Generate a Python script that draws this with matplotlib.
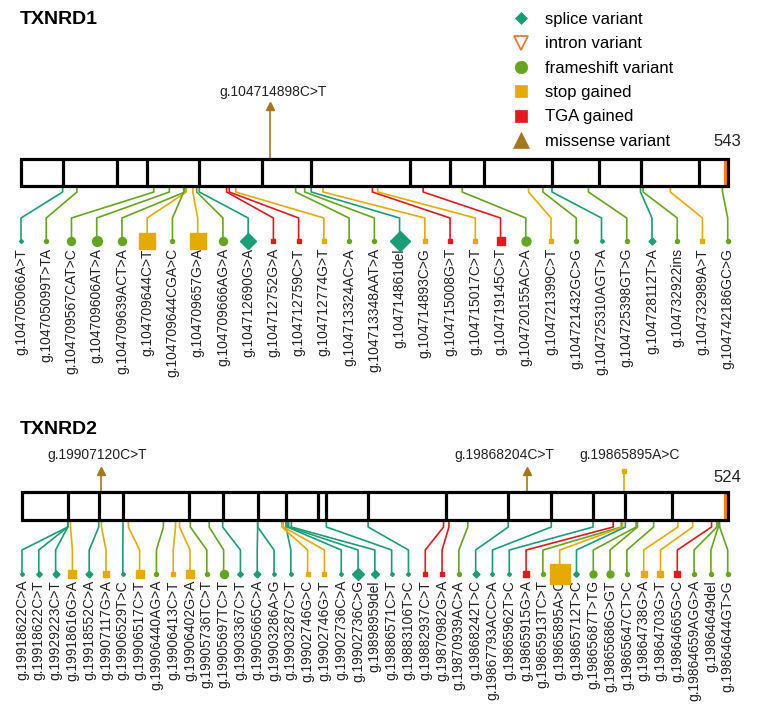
import numpy as np
import matplotlib.pyplot as plt
from matplotlib.lines import Line2D
from matplotlib.patches import Rectangle

plt.rcParams['font.family'] = ['Liberation Sans', 'DejaVu Sans']

# ---------------- TXNRD1 ----------------
tx1_len = 543
tx1_exon_ends = [32, 74, 97, 137, 185, 223, 299, 330, 356, 408, 444, 476, 521]
tx1_labels = ['g.104705066A>T', 'g.104705099T>TA', 'g.104709567CAT>C', 'g.104709606AT>A',
              'g.104709639ACT>A', 'g.104709644C>T', 'g.104709644CGA>C', 'g.104709657G>A',
              'g.104709666AG>A', 'g.104712690G>A', 'g.104712752G>A', 'g.104712759C>T',
              'g.104712774G>T', 'g.104713324AC>A', 'g.104713348AAT>A', 'g.104714861del',
              'g.104714893C>G', 'g.104715008G>T', 'g.104715017C>T', 'g.104719145C>T',
              'g.104720155AC>A', 'g.104721399C>T', 'g.104721432GC>G', 'g.104725310AGT>A',
              'g.104725398GT>G', 'g.104728112T>A', 'g.104732922ins', 'g.104732989A>T',
              'g.104742186GC>G']
tx1_pos = [32, 43, 102, 114, 126, 127, 125, 132, 135, 137, 158, 160, 165, 211, 218, 223,
           232, 270, 274, 309, 339, 390, 401, 408, 436, 476, 478, 499, 539]
tx1_type = ['splice', 'frameshift', 'frameshift', 'frameshift', 'frameshift', 'stop',
            'frameshift', 'stop', 'frameshift', 'splice', 'tga', 'tga', 'stop', 'frameshift',
            'frameshift', 'splice', 'stop', 'tga', 'stop', 'tga', 'frameshift', 'stop',
            'frameshift', 'splice', 'frameshift', 'splice', 'frameshift', 'stop', 'frameshift']
tx1_cases = [1, 1, 4, 6, 4, 16, 1, 16, 4, 16, 1, 1, 1, 1, 1, 25, 1, 1, 1, 5, 5, 1, 1, 1, 1,
             3, 1, 1, 1]
tx1_up_labels = ['g.104714898C>T']
tx1_up_pos = [191]
tx1_up_type = ['missense']
tx1_up_cases = [1]

# ---------------- TXNRD2 ----------------
tx2_len = 524
tx2_exon_ends = [34, 57, 75, 124, 149, 175, 196, 220, 226, 257, 315, 361, 393, 424, 448, 483]
tx2_labels = ['g.19918622C>A', 'g.19918622C>T', 'g.19929223C>T', 'g.19918616G>A',
              'g.19918552C>A', 'g.19907117G>A', 'g.19906529T>C', 'g.19906517C>T',
              'g.19906440AG>A', 'g.19906413C>T', 'g.19906402G>A', 'g.19905736TC>T',
              'g.19905697TC>T', 'g.19903367C>T', 'g.19905665C>A', 'g.19903286A>G',
              'g.19903287C>T', 'g.19902746G>C', 'g.19902746G>T', 'g.19902736C>A',
              'g.19902736C>G', 'g.19898959del', 'g.19886571C>T', 'g.19883106T>C',
              'g.19882937C>T', 'g.19870982G>A', 'g.19870939AC>A', 'g.19868242T>C',
              'g.19867793ACC>A', 'g.19865962T>C', 'g.19865915G>A', 'g.19865913TC>T',
              'g.19865895A>C', 'g.19865712T>C', 'g.19865687T>TG', 'g.19865686G>GT',
              'g.19865647CT>C', 'g.19864738G>A', 'g.19864703G>T', 'g.19864665G>C',
              'g.19864659AGG>A', 'g.19864649del', 'g.19864644GT>G']
tx2_pos = [34, 34, 34, 36, 57, 59, 75, 79, 105, 114, 117, 125, 139, 149, 175, 175, 196,
           193, 194, 197, 198, 200, 226, 257, 313, 317, 331, 361, 393, 424, 439, 445, 446,
           448, 456, 457, 469, 487, 498, 512, 516, 517, 518]
tx2_type = ['splice', 'splice', 'splice', 'stop', 'splice', 'stop', 'splice', 'stop',
            'frameshift', 'stop', 'stop', 'frameshift', 'frameshift', 'splice', 'splice',
            'splice', 'splice', 'stop', 'stop', 'splice', 'splice', 'splice', 'splice',
            'splice', 'tga', 'tga', 'frameshift', 'splice', 'splice', 'splice', 'tga',
            'frameshift', 'stop', 'splice', 'frameshift', 'frameshift', 'frameshift', 'stop',
            'stop', 'tga', 'frameshift', 'frameshift', 'frameshift']
tx2_cases = [1, 2, 3, 4, 3, 2, 1, 4, 1, 1, 4, 1, 4, 2, 3, 1, 1, 1, 1, 1, 9, 4, 1, 1, 1, 1,
             1, 3, 1, 1, 3, 1, 27, 2, 3, 3, 1, 2, 3, 2, 1, 1, 1]
tx2_up_labels = ['g.19907120C>T', 'g.19868204C>T', 'g.19865895A>C']
tx2_up_pos = [59, 375, 447]
tx2_up_type = ['missense', 'missense', 'stop']
tx2_up_cases = [1, 1, 1]

legend_types = ['splice', 'intron', 'frameshift', 'stop', 'tga', 'missense']
legend_names = ['splice variant', 'intron variant', 'frameshift variant', 'stop gained',
                'TGA gained', 'missense variant']

# ---------------- style ----------------
colors = {'splice': '#1b9e77', 'intron': '#ea7a35', 'frameshift': '#66a61e',
          'stop': '#e6ab02', 'tga': '#e31a1c', 'missense': '#a6761d'}
markers = {'splice': 'D', 'intron': 'v', 'frameshift': 'o', 'stop': 's', 'tga': 's',
           'missense': '^'}
sec_color = '#ff8000'

W, H = 761, 715
fig = plt.figure(figsize=(W / 100, H / 100), dpi=100)

# pixel layout of each panel
lay1 = dict(x0=21, x1=727.7, top=159, bot=186, b1=192, b2=218, my=241, ty=248,
            up=106, up_ty=92, len_y=142, title_y=20, shift=[3])
lay2 = dict(x0=22, x1=727.7, top=492, bot=520, b1=527, b2=550, my=574, ty=580,
            up=471, up_ty=455, len_y=477, title_y=430, shift=[-4, -23, 6])


def ms(kind, n):
    d = 4.0 * np.sqrt(n)  # marker width in px
    if markers[kind] == 'D':
        d = d / 1.414
    return d * 0.72


def draw_gene(gene, length, exon_ends, pos, kind, cases, labels,
              up_pos, up_kind, up_cases, up_labels, L):
    ax = fig.add_axes([0, 0, 1, 1])
    ax.set_axis_off()
    ax.patch.set_alpha(0)
    ppa = (L['x1'] - L['x0']) / length
    ax.set_xlim(-L['x0'] / ppa, (W - L['x0']) / ppa)
    ax.set_ylim(H, 0)

    ax.add_patch(Rectangle((length - 3, L['top']), 3, L['bot'] - L['top'],
                           fc=sec_color, ec='none', zorder=3))
    ax.add_patch(Rectangle((0, L['top']), length, L['bot'] - L['top'],
                           fill=False, ec='black', lw=2.3, zorder=4))
    ax.vlines(exon_ends, L['top'], L['bot'], color='black', lw=2.3, zorder=4)

    lx = np.linspace(0, length, len(pos))
    for p, x, k, n, lab in zip(pos, lx, kind, cases, labels):
        c = colors[k]
        ax.plot([p, p, x, x], [L['bot'], L['b1'], L['b2'], L['my']],
                color=c, lw=1.2, zorder=2)
        ax.plot(x, L['my'], marker=markers[k], ms=ms(k, n), color=c, mec=c, zorder=5)
        ax.text(x, L['ty'], lab, rotation=90, ha='center', va='top',
                fontsize=10, color='#222222')

    for p, k, n, lab, s in zip(up_pos, up_kind, up_cases, up_labels, L['shift']):
        c = colors[k]
        ax.plot([p, p], [L['top'], L['up']], color=c, lw=1.2, zorder=2)
        m_size = 5.8 if k == 'missense' else ms(k, n)
        ax.plot(p, L['up'], marker=markers[k], ms=m_size, color=c, mec=c, zorder=5)
        ax.text(p + s / ppa, L['up_ty'], lab, ha='center', va='center',
                fontsize=10, color='#222222')

    ax.text(length, L['len_y'], str(length), ha='center', va='center',
            fontsize=12, color='#222222')
    fig.text(20 / W, 1 - L['title_y'] / H, gene, fontsize=14, fontweight='bold',
             va='center', ha='left')


draw_gene('TXNRD1', tx1_len, tx1_exon_ends, tx1_pos, tx1_type, tx1_cases, tx1_labels,
          tx1_up_pos, tx1_up_type, tx1_up_cases, tx1_up_labels, lay1)
draw_gene('TXNRD2', tx2_len, tx2_exon_ends, tx2_pos, tx2_type, tx2_cases, tx2_labels,
          tx2_up_pos, tx2_up_type, tx2_up_cases, tx2_up_labels, lay2)

leg_ms = {'splice': 6, 'intron': 10.5, 'frameshift': 9, 'stop': 9, 'tga': 9,
          'missense': 12}
handles = []
for k in legend_types:
    c = colors[k]
    fc = 'none' if k == 'intron' else c
    handles.append(Line2D([], [], ls='none', marker=markers[k], ms=leg_ms[k],
                          mfc=fc, mec=c, mew=1.3 if k == 'intron' else 0.5))
fig.legend(handles, legend_names, loc='upper left', bbox_to_anchor=(513 / W, 1 - 12 / H),
           frameon=False, fontsize=12, handlelength=1.0, handletextpad=0.9,
           labelspacing=0.56, borderpad=0, borderaxespad=0)

fig.savefig('out.png', dpi=100)
